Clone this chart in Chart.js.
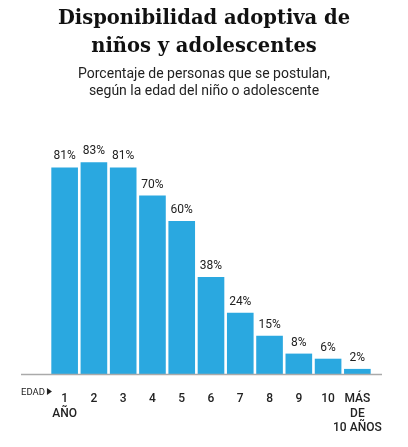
<!DOCTYPE html>
<html lang="es">
	<head>
		<meta charset="UTF-8" />
		<title>Disponibilidad adoptiva de niños y adolescentes</title>
		<style>
			html, body { margin: 0; padding: 0; background: #fff; }
			#wrap { position: relative; width: 408px; height: 447px; }
			#head { position: absolute; left: 0; top: 0; width: 408px; text-align: center; }
			h1 {
				margin: 4px 0 0 0;
				font-family: "DejaVu Serif", serif;
				font-weight: bold;
				font-size: 19.5px;
				line-height: 28px;
				color: #111;
			}
			h2 {
				margin: 5px 0 0 0;
				font-family: Roboto, sans-serif;
				font-weight: normal;
				font-size: 14px;
				line-height: 17px;
				color: #222;
			}
			canvas { position: absolute; left: 0; top: 0; }
		</style>
	</head>

	<body>
		<div id="wrap">
			<canvas id="myChart" width="408" height="447"></canvas>
			<div id="head">
				<h1>Disponibilidad adoptiva de<br />niños y adolescentes</h1>
				<h2>Porcentaje de personas que se postulan,<br />según la edad del niño o adolescente</h2>
			</div>
		</div>

		<script src="https://cdn.jsdelivr.net/npm/chart.js@4.4.0/dist/chart.umd.min.js"></script>
		<script>
			// data
			var edades = [
				["1", "AÑO"], "2", "3", "4", "5", "6", "7", "8", "9", "10",
				["MÁS", "DE", "10 AÑOS"]
			];
			var porcentajes = [81, 83, 81, 70, 60, 38, 24, 15, 8, 6, 2];
			var ejeLabel = "EDAD";

			// labels over the bars, the baseline and the "EDAD" note
			var extras = {
				id: "extras",
				afterDatasetsDraw: function (chart) {
					var ctx = chart.ctx;
					var area = chart.chartArea;
					ctx.save();
					ctx.strokeStyle = "#aaaaaa";
					ctx.lineWidth = 1.5;
					ctx.beginPath();
					ctx.moveTo(21, area.bottom + 0.5);
					ctx.lineTo(382, area.bottom + 0.5);
					ctx.stroke();

					ctx.fillStyle = "#222";
					ctx.font = "12px Roboto";
					ctx.textAlign = "center";
					ctx.textBaseline = "alphabetic";
					chart.getDatasetMeta(0).data.forEach(function (bar, i) {
						ctx.fillText(porcentajes[i] + "%", bar.x, bar.y - 8);
					});

					// axis note with a small arrow head
					var yb = area.bottom + 21;
					ctx.font = "9.5px Roboto";
					ctx.textAlign = "left";
					ctx.fillText(ejeLabel, 21, yb);
					var w = ctx.measureText(ejeLabel).width;
					var ax = 21 + w + 2;
					ctx.beginPath();
					ctx.moveTo(ax, yb - 7);
					ctx.lineTo(ax + 5, yb - 3.5);
					ctx.lineTo(ax, yb);
					ctx.closePath();
					ctx.fill();
					ctx.restore();
				}
			};

			var myChart = document.getElementById("myChart").getContext("2d");
			var chart = new Chart(myChart, {
				type: "bar",
				data: {
					labels: edades,
					datasets: [
						{
							data: porcentajes,
							backgroundColor: "#2aa8e0",
							categoryPercentage: 1,
							barPercentage: 0.91,
						},
					],
				},
				options: {
					responsive: false,
					animation: false,
					layout: { padding: { left: 50, right: 36, top: 119, bottom: 0 } },
					plugins: {
						legend: { display: false },
						tooltip: { enabled: false },
					},
					scales: {
						x: {
							grid: { display: false },
							border: { display: false },
							ticks: {
								color: "#222",
								font: { family: "Roboto", size: 12, weight: "500", lineHeight: 1.2 },
								padding: 10,
								maxRotation: 0,
								autoSkip: false,
							},
							afterFit: function (scale) {
								scale.height = 73;
							},
						},
						y: {
							display: false,
							min: 0,
							max: 100,
						},
					},
				},
				plugins: [extras],
			});
		</script>
	</body>
</html>
